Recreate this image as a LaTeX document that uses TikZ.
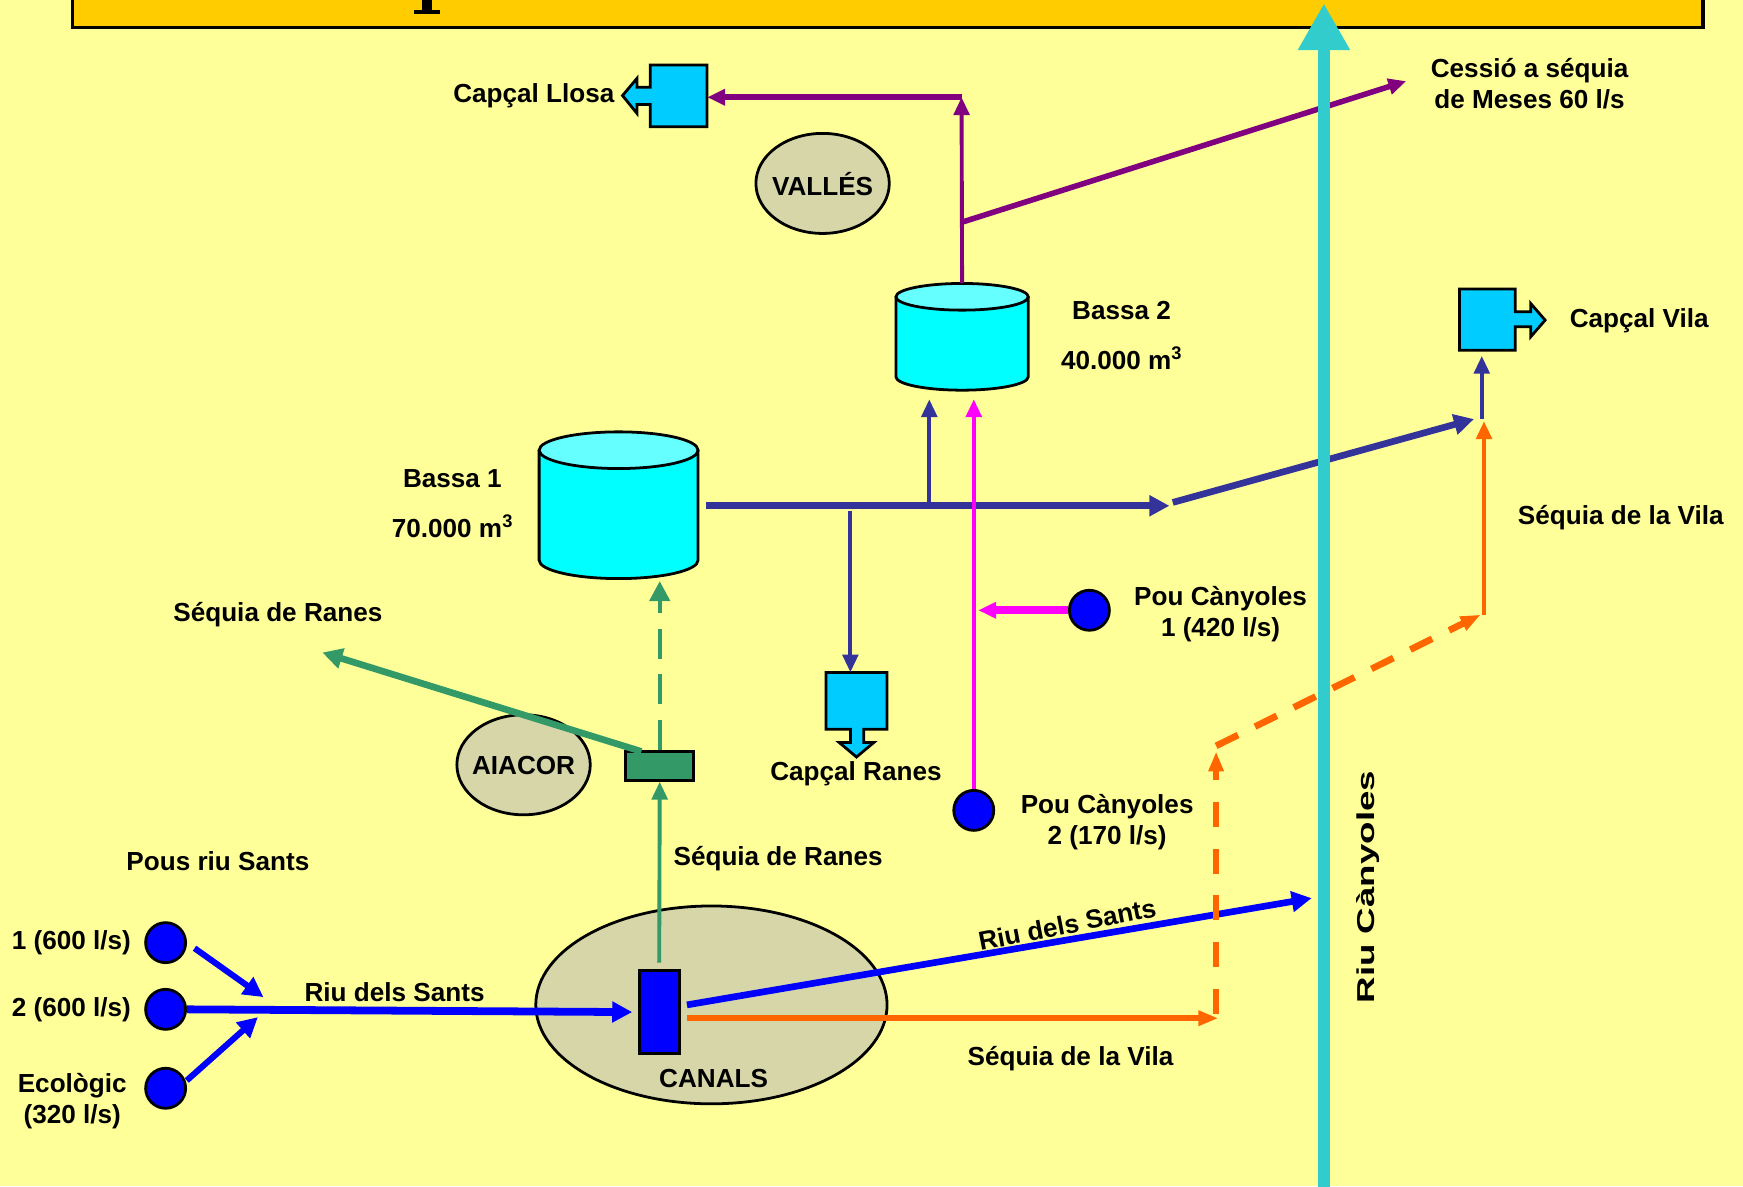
\documentclass[tikz,border=0pt]{standalone}
\usepackage{fontspec}
\setmainfont{Liberation Sans}
\usetikzlibrary{arrows.meta,shapes.geometric}
\definecolor{bg}{HTML}{FFFF99}
\definecolor{titlebar}{HTML}{FFCC00}
\definecolor{river}{HTML}{33CCCC}
\definecolor{capc}{HTML}{00CCFF}
\definecolor{cyltop}{HTML}{66FFFF}
\definecolor{cylbody}{HTML}{00FFFF}
\definecolor{khaki}{HTML}{D6D6A8}
\definecolor{purp}{HTML}{800080}
\definecolor{navy}{HTML}{333399}
\definecolor{mag}{HTML}{FF00FF}
\definecolor{orng}{HTML}{FF6600}
\definecolor{grn}{HTML}{339966}
\definecolor{blu}{HTML}{0000FF}
\begin{document}
\begin{tikzpicture}[x=1pt,y=-1pt,
  font=\fontsize{23.5pt}{28pt}\selectfont\bfseries,
  lbl/.style={inner sep=0pt, align=center, yshift=-0.5pt},
  tipthin/.style={-{Triangle[length=16pt,width=14pt]}},
  tipthick/.style={-{Triangle[length=18pt,width=18pt]}},
  tipnarrow/.style={-{Triangle[length=18pt,width=13pt]}},
  well/.style={circle, draw=black, line width=2.5pt, fill=blu, minimum size=36pt, inner sep=0pt},
  zone/.style={ellipse, draw=black, line width=2.5pt, fill=khaki, inner sep=0pt},
  hidden/.style={rectangle, inner sep=0pt, draw=none},
  capshape/.style={draw=black, fill=capc, line width=2.5pt, line join=miter},
  cylline/.style={draw=black, line width=2.5pt},
]
\useasboundingbox (0,0) rectangle (1568,1067);
\fill[bg] (0,0) rectangle (1568,1067);

% title bar
\draw[fill=titlebar, line width=3pt] (65,-20) rectangle (1532,25);
\fill[black] (380,-2) rectangle (389,10);
\fill[black] (372,9) rectangle (396,12.5);

% zones
\node[zone, minimum width=120pt, minimum height=90pt] (valles) at (740,165) {};
\node[zone, minimum width=120pt, minimum height=90pt] (aiacor) at (471,688) {};
\node[zone, minimum width=316pt, minimum height=178pt] (canals) at (640,904) {};

% Bassa 1
\node[hidden, minimum width=143pt, minimum height=132pt] (bassa1) at (556.5,454.5) {};
\fill[cylbody] (485,405) -- (485,504) arc[start angle=180,end angle=360,x radius=71.5pt,y radius=16.5pt] -- (628,405) -- cycle;
\draw[cylline] (485,405) -- (485,504) arc[start angle=180,end angle=360,x radius=71.5pt,y radius=16.5pt] -- (628,405);
\draw[cylline, fill=cyltop] (556.5,405) ellipse[x radius=71.5pt, y radius=16.5pt];

% Bassa 2
\node[hidden, minimum width=119pt, minimum height=96pt] (bassa2) at (865.5,303) {};
\fill[cylbody] (806,267) -- (806,339) arc[start angle=180,end angle=360,x radius=59.5pt,y radius=12pt] -- (925,267) -- cycle;
\draw[cylline] (806,267) -- (806,339) arc[start angle=180,end angle=360,x radius=59.5pt,y radius=12pt] -- (925,267);
\draw[cylline, fill=cyltop] (865.5,267) ellipse[x radius=59.5pt, y radius=12pt];

% Capcal shapes
\node[hidden, minimum width=51pt, minimum height=55pt] (capll) at (610.5,86) {};
\draw[capshape] (636,58.5) -- (585,58.5) -- (585,78.5) -- (573,78.5) -- (573,70.5) -- (560,86) -- (573,102) -- (573,94) -- (585,94) -- (585,114) -- (636,114) -- cycle;
\node[hidden, minimum width=50pt, minimum height=55pt] (capvila) at (1338,287.5) {};
\draw[capshape] (1313,260) -- (1363,260) -- (1363,280.5) -- (1377,280.5) -- (1377,273) -- (1390,288) -- (1377,303) -- (1377,294) -- (1363,294) -- (1363,315) -- (1313,315) -- cycle;
\node[hidden, minimum width=55pt, minimum height=51pt] (capranes) at (770.5,630.5) {};
\draw[capshape] (743,605) -- (798,605) -- (798,656) -- (777,656) -- (777,668) -- (786,668) -- (770.5,681) -- (755,668) -- (765,668) -- (765,656) -- (743,656) -- cycle;

% boxes
\node[rectangle, draw=black, line width=2.5pt, fill=grn, minimum width=61pt, minimum height=26pt, inner sep=0pt] (greenbox) at (593.5,689) {};
\node[rectangle, draw=black, line width=2.5pt, fill=blu, minimum width=36pt, minimum height=75pt, inner sep=0pt] (bluebox) at (593,910.5) {};

% wells
\node[well] (s1) at (149,848) {};
\node[well] (s2) at (149,908) {};
\node[well] (eco) at (149,979) {};
\node[well] (pc1) at (980,549) {};
\node[well] (pc2) at (876,729) {};

% coordinates
\coordinate (pj) at (865,87.5);
\coordinate (pd) at (865,200);
\coordinate (cess) at (1265,73);
\coordinate (n0) at (635,455);
\coordinate (n1) at (1052,455);
\coordinate (n2) at (1055,452);
\coordinate (n3) at (1326,377);
\coordinate (n4) at (1333,377);
\coordinate (nb) at (836,455);
\coordinate (nr) at (765,460);
\coordinate (mj) at (880,549);
\coordinate (o0) at (618,916);
\coordinate (o1) at (1096,916);
\coordinate (o2) at (1094,912);
\coordinate (o3) at (1094,676);
\coordinate (o4) at (1094,671);
\coordinate (o5) at (1332,553);
\coordinate (o6) at (1335,553);
\coordinate (o7) at (1335,379);
\coordinate (g0) at (577,676);
\coordinate (g1) at (290,587);
\coordinate (g2) at (593,866);
\coordinate (b1) at (175,853);
\coordinate (b2) at (237,897);
\coordinate (b3) at (168,972);
\coordinate (b4) at (232,915);
\coordinate (b5) at (618,904);
\coordinate (b6) at (1180,808);
\coordinate (rv0) at (1191,1075);
\coordinate (rv1) at (1191,3);

% purple
\draw[purp, line width=3.5pt, tipthin] (bassa2.north) -- (pj);
\draw[purp, line width=5pt, tipthin] (pj) -- (pj -| capll.east);
\draw[purp, line width=5pt, tipthin] (pd) -- (cess);

% navy
\draw[navy, line width=6pt, tipthick] (n0) -- (n1);
\draw[navy, line width=6pt, tipthick] (n2) -- (n3);
\draw[navy, line width=3.5pt, tipthin, shorten >=5pt] (n4) -- (n4 |- capvila.south);
\draw[navy, line width=3.5pt, tipthin, shorten >=8pt] (nb) -- (nb |- bassa2.south);
\draw[navy, line width=3.5pt, tipthin] (nr) -- (nr |- capranes.north);

% magenta
\draw[mag, line width=3.5pt, tipthin, shorten >=8pt] (pc2.north) -- (pc2.north |- bassa2.south);
\draw[mag, line width=7pt, tipthin] (pc1.west) -- (mj);

% green
\draw[grn, line width=6pt, tipthick] (g0) -- (g1);
\draw[grn, line width=4pt, dash pattern=on 27pt off 14pt, tipthick, shorten >=2pt] (greenbox.north) -- (greenbox.north |- bassa1.south);
\draw[grn, line width=3.5pt, tipthin] (g2) -- (greenbox.south);

% blue
\draw[blu, line width=7pt, tipthick, shorten >=5pt] (s2.east) -- (bluebox.west);
\draw[blu, line width=5.5pt, tipthick] (b1) -- (b2);
\draw[blu, line width=5.5pt, tipthick] (b3) -- (b4);
\draw[blu, line width=6pt, tipthick] (b5) -- (b6);

% orange
\draw[orng, line width=5.5pt, tipnarrow] (o0) -- (o1);
\draw[orng, line width=5pt, dash pattern=on 22.5pt off 19.5pt, tipnarrow] (o2) -- (o3);
\draw[orng, line width=6pt, dash pattern=on 22pt off 17pt, tipnarrow] (o4) -- (o5);
\draw[orng, line width=3.5pt, tipthin] (o6) -- (o7);

% river
\draw[river, line width=11pt, -{Triangle[length=42pt,width=44pt]}] (rv0) -- (rv1);

% labels
\node[lbl] (tvalles) at (valles.center) {VALLÉS};
\node[lbl] (taiacor) at (aiacor.center) {AIACOR};
\node[lbl] (canalslbl) at (642,970) {CANALS};
\node[lbl, anchor=east] (tcapll) at (553,86) {Capçal Llosa};
\node[lbl] (tcess) at (1376,75) {Cessió a séquia\\de Meses 60 l/s};
\node[lbl] (tb2a) at (1009,279) {Bassa 2};
\node[lbl] (tb2b) at (1009,322) {40.000 m\textsuperscript{3}};
\node[lbl, anchor=west] (tcapvila) at (1412,288) {Capçal Vila};
\node[lbl] (tb1a) at (407,430) {Bassa 1};
\node[lbl] (tb1b) at (407,473) {70.000 m\textsuperscript{3}};
\node[lbl] (tsvila1) at (1458,465) {Séquia de la Vila};
\node[lbl] (tsranes1) at (250,552) {Séquia de Ranes};
\node[lbl] (tpc1) at (1098,552) {Pou Cànyoles\\1 (420 l/s)};
\node[lbl] (tcapranes) at (770,696) {Capçal Ranes};
\node[lbl] (tpc2) at (996,739) {Pou Cànyoles\\2 (170 l/s)};
\node[lbl] (tsranes2) at (700,772) {Séquia de Ranes};
\node[lbl] (tpous) at (196,774) {Pous riu Sants};
\node[lbl] (triu1) at (355,892) {Riu dels Sants};
\node[lbl, rotate=11] (triu2) at (960,831) {Riu dels Sants};
\node[lbl, anchor=east] (ts1) at (118,848) {1 (600 l/s)};
\node[lbl, anchor=east] (ts2) at (118,908) {2 (600 l/s)};
\node[lbl] (teco) at (65,990) {Ecològic\\(320 l/s)};
\node[lbl] (tsvila2) at (963,952) {Séquia de la Vila};
\node[inner sep=0pt, rotate=90] (triver) at (1231,798) {\fontsize{22pt}{26pt}\selectfont\scalebox{1.5}[1]{Riu Cànyoles}};
\end{tikzpicture}
\end{document}
